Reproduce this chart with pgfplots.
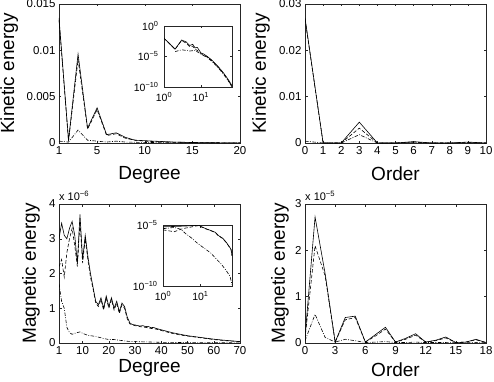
\documentclass[border=0pt]{standalone}
\usepackage{fontspec}
\setmainfont{Liberation Sans}
\usepackage{pgfplots}
\pgfplotsset{compat=1.18}
\pgfplotsset{
  base/.style={
    scale only axis, anchor=south west,
    axis line style={black!85, line width=0.5pt},
    axis background/.style={fill=white},
    tick align=inside, major tick length=2.5pt,
    tick style={black!85, line width=0.4pt},
    scaled ticks=false,
    tick label style={font=\fontsize{11.5}{13}\selectfont},
    label style={font=\fontsize{19}{21}\selectfont},
    /pgf/number format/assume math mode=true,
  },
  main/.style={base, width=181pt, height=139pt},
  inset/.style={base, xmin=1, xmax=70,
    xminorticks=false, yminorticks=false,
    tick label style={font=\fontsize{10.5}{12}\selectfont},
    xticklabel style={yshift=-1.5pt},
    yticklabel style={xshift=-2pt},
    xtick={1,10}, xticklabels={10\textsuperscript{0},10\textsuperscript{1}},
  },
  s1/.style={black, line width=0.6pt},
  s2/.style={black, line width=0.6pt, dash pattern=on 3.5pt off 2pt},
  s3/.style={black, line width=0.6pt, dash pattern=on 3.5pt off 1.5pt on 0.8pt off 1.5pt},
}
\begin{document}
\begin{tikzpicture}
\path[use as bounding box] (0,0) rectangle (494pt,381pt);

% ---------- top left ----------
\begin{axis}[main, at={(59pt,238pt)},
  xmin=1, xmax=20, ymin=0, ymax=0.015,
  xtick={1,5,10,15,20},
  ytick={0,0.005,0.01,0.015}, yticklabels={0,0.005,0.01,0.015},
  xlabel={Degree}, ylabel={Kinetic energy},
  xlabel style={at={(axis description cs:0.5,-0.23)}, anchor=center},
  ylabel style={at={(axis description cs:-0.275,0.5)}, anchor=center}]
\addplot[s1] coordinates {(1,0.0135)(2,0.0003)(3,0.0096)(4,0.0016)(5,0.0038)(6,0.0009)(7,0.0011)(8,0.0006)(9,0.0003)(10,0.00025)(11,0.0002)(12,0.00015)(13,0.0001)(14,0.00008)(15,0.00006)(16,0.00004)(17,0.00003)(18,0.00002)(19,0.00002)(20,0.00001)};
\addplot[s2] coordinates {(1,0.0133)(2,0.0002)(3,0.0090)(4,0.0015)(5,0.0036)(6,0.0008)(7,0.0010)(8,0.0005)(9,0.0003)(10,0.0002)(11,0.00015)(12,0.00012)(13,0.0001)(14,0.00007)(15,0.00005)(16,0.00004)(17,0.00003)(18,0.00002)(19,0.00001)(20,0.00001)};
\addplot[s3] coordinates {(1,0.0002)(2,0.0001)(3,0.0014)(4,0.0003)(5,0.0002)(6,0.0001)(7,0.0002)(8,0.0001)(9,0.00008)(10,0.00006)(12,0.00004)(14,0.00003)(16,0.00002)(18,0.00001)(20,0.00001)};
\end{axis}

% ---------- top right ----------
\begin{axis}[main, at={(305pt,238pt)},
  xmin=0, xmax=10, ymin=0, ymax=0.03,
  xtick={0,1,...,10},
  ytick={0,0.01,0.02,0.03}, yticklabels={0,0.01,0.02,0.03},
  xlabel={Order}, ylabel={Kinetic energy},
  xlabel style={at={(axis description cs:0.5,-0.22)}, anchor=center},
  ylabel style={at={(axis description cs:-0.243,0.5)}, anchor=center}]
\addplot[s1] coordinates {(0,0.027)(1,0)(2,0)(3,0.0045)(4,0)(5,0)(6,0.0003)(7,0)(8,0)(9,0.0002)(10,0)};
\addplot[s2] coordinates {(0,0.0268)(1,0)(2,0)(3,0.0032)(4,0)(5,0)(6,0.0002)(7,0)(8,0)(9,0.0001)(10,0)};
\addplot[s3] coordinates {(0,0.0004)(1,0)(2,0)(3,0.0018)(4,0)(5,0)(6,0.0001)(7,0)(8,0)(9,0.00005)(10,0)};
\end{axis}

% ---------- bottom left ----------
\begin{axis}[main, at={(59pt,38pt)},
  xmin=1, xmax=70, ymin=0, ymax=4,
  xtick={1,10,20,30,40,50,60,70},
  ytick={0,1,2,3,4},
  xlabel={Degree}, ylabel={Magnetic energy},
  xlabel style={at={(axis description cs:0.5,-0.18)}, anchor=center},
  ylabel style={at={(axis description cs:-0.155,0.5)}, anchor=center},
  extra description/.code={\node[anchor=south west, inner sep=0pt, font=\fontsize{11}{12}\selectfont] at ([yshift=3pt]axis description cs:0,1) {x 10\textsuperscript{−6}};}]
\addplot[s1] coordinates {(1,3.0)(2,3.45)(3,3.1)(4,3.0)(5,3.3)(6,3.5)(7,3.1)(8,2.3)(9,3.7)(10,2.4)(11,3.1)(12,2.5)(13,2.0)(14,1.6)(15,1.2)(16,1.1)(17,1.3)(18,1.0)(19,1.35)(20,1.05)(21,1.3)(22,1.0)(23,1.2)(24,0.9)(25,1.15)(26,1.05)(27,0.75)(28,0.58)(29,0.53)(30,0.52)(31,0.5)(32,0.49)(33,0.5)(34,0.47)(35,0.48)(36,0.44)(37,0.45)(38,0.42)(40,0.38)(42,0.34)(44,0.3)(46,0.27)(48,0.24)(50,0.21)(53,0.18)(56,0.15)(60,0.11)(64,0.08)(67,0.06)(70,0.04)};
\addplot[s2] coordinates {(1,2.2)(2,2.4)(3,1.9)(4,2.6)(5,3.0)(6,3.3)(7,2.8)(8,2.2)(9,3.5)(10,2.3)(11,3.0)(12,2.4)(13,1.9)(14,1.55)(15,1.15)(16,1.05)(17,1.25)(18,0.95)(19,1.3)(20,1.0)(21,1.25)(22,0.95)(23,1.15)(24,0.85)(25,1.1)(26,1.0)(27,0.7)(28,0.55)(30,0.5)(32,0.47)(34,0.45)(36,0.42)(38,0.4)(40,0.36)(44,0.28)(48,0.22)(52,0.18)(56,0.14)(60,0.1)(64,0.07)(68,0.05)(70,0.04)};
\addplot[s3] coordinates {(1,1.7)(2,1.2)(3,1.0)(4,0.45)(5,0.3)(6,0.25)(7,0.28)(8,0.3)(9,0.32)(10,0.28)(12,0.22)(14,0.2)(16,0.17)(18,0.13)(20,0.1)(22,0.1)(24,0.08)(27,0.05)(30,0.04)(35,0.03)(40,0.02)(50,0.012)(60,0.008)(70,0.005)};
\end{axis}

% ---------- bottom right ----------
\begin{axis}[main, at={(305pt,38pt)},
  xmin=0, xmax=18, ymin=0, ymax=3,
  xtick={0,3,...,18},
  ytick={0,1,2,3},
  xlabel={Order}, ylabel={Magnetic energy},
  xlabel style={at={(axis description cs:0.5,-0.195)}, anchor=center},
  ylabel style={at={(axis description cs:-0.138,0.5)}, anchor=center},
  extra description/.code={\node[anchor=south west, inner sep=0pt, font=\fontsize{11}{12}\selectfont] at ([yshift=3pt]axis description cs:0,1) {x 10\textsuperscript{−5}};}]
\addplot[s1] coordinates {(0,0.12)(1,2.72)(2,1.5)(3,0.02)(4,0.55)(5,0.58)(6,0.02)(7,0.18)(8,0.34)(9,0.02)(10,0.1)(11,0.2)(12,0.02)(13,0.06)(14,0.13)(15,0.01)(16,0.02)(17,0.08)(18,0.01)};
\addplot[s2] coordinates {(0,0.1)(1,2.1)(2,1.45)(3,0.02)(4,0.5)(5,0.55)(6,0.02)(7,0.15)(8,0.3)(9,0.02)(10,0.08)(11,0.17)(12,0.02)(13,0.05)(14,0.11)(15,0.01)(16,0.02)(17,0.07)(18,0.01)};
\addplot[s3] coordinates {(0,0.05)(1,0.62)(2,0.12)(3,0.02)(4,0.08)(5,0.05)(6,0.01)(7,0.02)(8,0.03)(9,0.01)(10,0.01)(11,0.02)(12,0.01)(13,0.01)(14,0.01)(15,0.005)(16,0.005)(17,0.01)(18,0.005)};
\end{axis}

% ---------- top inset ----------
\begin{loglogaxis}[inset, at={(164pt,294pt)}, width=68pt, height=61pt,
  ymin=1e-10, ymax=1,
  ytick={1e-10,1e-5,1},
  yticklabels={10\textsuperscript{−10},10\textsuperscript{−5},10\textsuperscript{0}}]
\addplot[s1] coordinates {(1,1e-2)(2,1.58e-4)(3,5.01e-3)(4,2.51e-3)(5,6.31e-4)(6,1e-3)(7,2.51e-4)(8,3.16e-4)(10,3.98e-5)(12,2.51e-5)(15,1e-5)(20,2.51e-6)(25,6.31e-7)(30,2.0e-7)(40,2.51e-8)(50,3.98e-9)(60,7.94e-10)(70,1.58e-10)};
\addplot[s2] coordinates {(1,1e-2)(2,1.58e-4)(3,3.98e-3)(4,1.58e-3)(5,3.98e-4)(6,5.01e-4)(7,1.58e-4)(8,1.0e-4)(10,3.16e-5)(15,7.94e-6)(20,2.0e-6)(30,1.58e-7)(40,2.0e-8)(50,3.16e-9)(60,5.01e-10)(70,1.0e-10)};
\addplot[s3] coordinates {(2,6.31e-5)(3,1.26e-4)(4,1.0e-4)(5,7.94e-5)(7,1.0e-4)(10,2.51e-5)(15,6.31e-6)(20,1.58e-6)(30,1.26e-7)(40,1.58e-8)(50,2.51e-9)(60,5.01e-10)(70,1.26e-10)};
\end{loglogaxis}

% ---------- bottom inset ----------
\begin{loglogaxis}[inset, at={(163pt,95pt)}, width=69pt, height=61pt,
  ymin=1e-10, ymax=1e-5,
  ytick={1e-10,1e-5},
  yticklabels={10\textsuperscript{−10},10\textsuperscript{−5}}]
\addplot[s1] coordinates {(1,7.08e-6)(3,7.94e-6)(7,8.91e-6)(9,1e-5)(10,7.94e-6)(14,5.01e-6)(19,3.55e-6)(25,2.51e-6)(30,1.41e-6)(40,7.94e-7)(50,3.55e-7)(60,1.58e-7)(66,1e-7)(70,3.16e-8)};
\addplot[s2] coordinates {(1,3.98e-6)(2,2.82e-6)(3,4.47e-6)(4,5.62e-6)(5,6.31e-6)(7,7.94e-6)(9,8.91e-6)(10,7.59e-6)(14,4.79e-6)(19,3.39e-6)(25,2.4e-6)(30,1.35e-6)(40,7.59e-7)(50,3.39e-7)(60,1.51e-7)(66,9.55e-8)(70,3.02e-8)};
\addplot[s3] coordinates {(1,5.01e-6)(2,6.31e-6)(3,4.47e-6)(4,2.0e-6)(6,7.94e-7)(8,3.55e-7)(12,1.41e-7)(19,5.01e-8)(27,1.58e-8)(36,6.31e-9)(48,2.0e-9)(62,6.31e-10)(70,1.26e-10)};
\end{loglogaxis}
\end{tikzpicture}
\end{document}
